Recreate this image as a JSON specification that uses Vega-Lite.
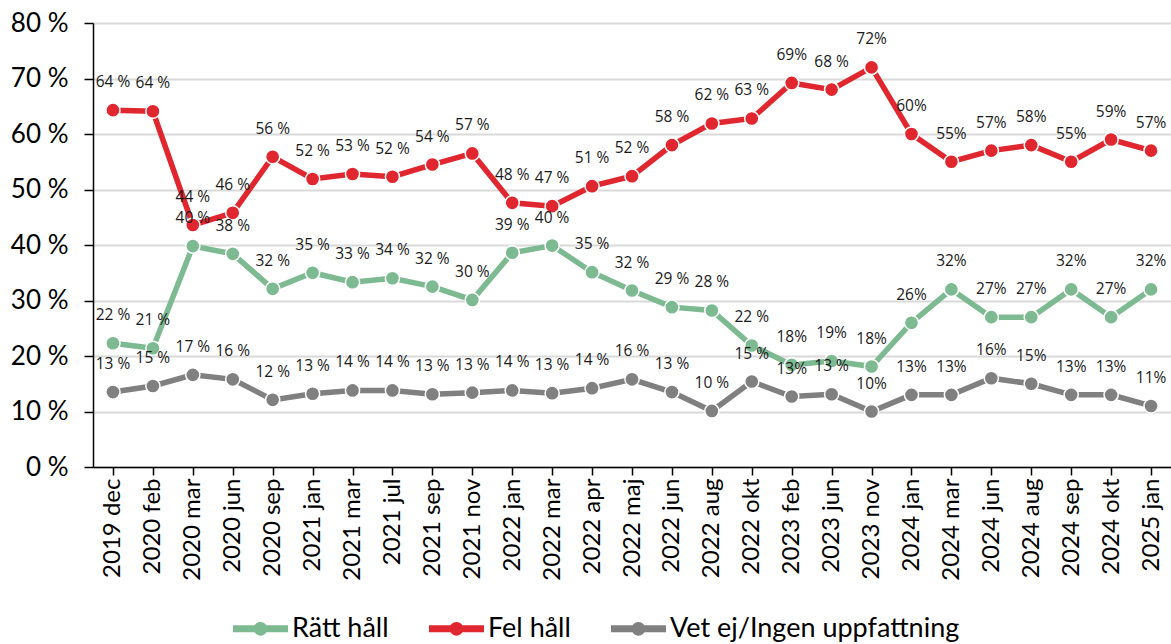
{
  "$schema": "https://vega.github.io/schema/vega-lite/v6.json",
  "width": 1078,
  "height": 444,
  "autosize": {"type": "none"},
  "padding": {"left": 93, "top": 23, "right": 0, "bottom": 177},
  "background": "white",
  "config": {
    "font": "Lato",
    "view": {"stroke": null}
  },
  "data": {
    "values": [
      {"period": "2019 dec", "serie": "Rätt håll", "value": 22.3, "label": "22 %"},
      {"period": "2020 feb", "serie": "Rätt håll", "value": 21.4, "label": "21 %"},
      {"period": "2020 mar", "serie": "Rätt håll", "value": 39.8, "label": "40 %"},
      {"period": "2020 jun", "serie": "Rätt håll", "value": 38.4, "label": "38 %"},
      {"period": "2020 sep", "serie": "Rätt håll", "value": 32.1, "label": "32 %"},
      {"period": "2021 jan", "serie": "Rätt håll", "value": 35.0, "label": "35 %"},
      {"period": "2021 mar", "serie": "Rätt håll", "value": 33.3, "label": "33 %"},
      {"period": "2021 jul", "serie": "Rätt håll", "value": 34.0, "label": "34 %"},
      {"period": "2021 sep", "serie": "Rätt håll", "value": 32.5, "label": "32 %"},
      {"period": "2021 nov", "serie": "Rätt håll", "value": 30.1, "label": "30 %"},
      {"period": "2022 jan", "serie": "Rätt håll", "value": 38.6, "label": "39 %"},
      {"period": "2022 mar", "serie": "Rätt håll", "value": 39.9, "label": "40 %"},
      {"period": "2022 apr", "serie": "Rätt håll", "value": 35.1, "label": "35 %"},
      {"period": "2022 maj", "serie": "Rätt håll", "value": 31.8, "label": "32 %"},
      {"period": "2022 jun", "serie": "Rätt håll", "value": 28.8, "label": "29 %"},
      {"period": "2022 aug", "serie": "Rätt håll", "value": 28.2, "label": "28 %"},
      {"period": "2022 okt", "serie": "Rätt håll", "value": 21.9, "label": "22 %"},
      {"period": "2023 feb", "serie": "Rätt håll", "value": 18.4, "label": "18%"},
      {"period": "2023 jun", "serie": "Rätt håll", "value": 19.1, "label": "19%"},
      {"period": "2023 nov", "serie": "Rätt håll", "value": 18.1, "label": "18%"},
      {"period": "2024 jan", "serie": "Rätt håll", "value": 26, "label": "26%"},
      {"period": "2024 mar", "serie": "Rätt håll", "value": 32, "label": "32%"},
      {"period": "2024 jun", "serie": "Rätt håll", "value": 27, "label": "27%"},
      {"period": "2024 aug", "serie": "Rätt håll", "value": 27, "label": "27%"},
      {"period": "2024 sep", "serie": "Rätt håll", "value": 32, "label": "32%"},
      {"period": "2024 okt", "serie": "Rätt håll", "value": 27, "label": "27%"},
      {"period": "2025 jan", "serie": "Rätt håll", "value": 32, "label": "32%"},
      {"period": "2019 dec", "serie": "Fel håll", "value": 64.3, "label": "64 %"},
      {"period": "2020 feb", "serie": "Fel håll", "value": 64.1, "label": "64 %"},
      {"period": "2020 mar", "serie": "Fel håll", "value": 43.6, "label": "44 %"},
      {"period": "2020 jun", "serie": "Fel håll", "value": 45.8, "label": "46 %"},
      {"period": "2020 sep", "serie": "Fel håll", "value": 55.9, "label": "56 %"},
      {"period": "2021 jan", "serie": "Fel håll", "value": 51.9, "label": "52 %"},
      {"period": "2021 mar", "serie": "Fel håll", "value": 52.8, "label": "53 %"},
      {"period": "2021 jul", "serie": "Fel håll", "value": 52.3, "label": "52 %"},
      {"period": "2021 sep", "serie": "Fel håll", "value": 54.5, "label": "54 %"},
      {"period": "2021 nov", "serie": "Fel håll", "value": 56.5, "label": "57 %"},
      {"period": "2022 jan", "serie": "Fel håll", "value": 47.6, "label": "48 %"},
      {"period": "2022 mar", "serie": "Fel håll", "value": 47.0, "label": "47 %"},
      {"period": "2022 apr", "serie": "Fel håll", "value": 50.6, "label": "51 %"},
      {"period": "2022 maj", "serie": "Fel håll", "value": 52.4, "label": "52 %"},
      {"period": "2022 jun", "serie": "Fel håll", "value": 58.0, "label": "58 %"},
      {"period": "2022 aug", "serie": "Fel håll", "value": 61.9, "label": "62 %"},
      {"period": "2022 okt", "serie": "Fel håll", "value": 62.8, "label": "63 %"},
      {"period": "2023 feb", "serie": "Fel håll", "value": 69.2, "label": "69%"},
      {"period": "2023 jun", "serie": "Fel håll", "value": 68.0, "label": "68 %"},
      {"period": "2023 nov", "serie": "Fel håll", "value": 72.0, "label": "72%"},
      {"period": "2024 jan", "serie": "Fel håll", "value": 60, "label": "60%"},
      {"period": "2024 mar", "serie": "Fel håll", "value": 55, "label": "55%"},
      {"period": "2024 jun", "serie": "Fel håll", "value": 57, "label": "57%"},
      {"period": "2024 aug", "serie": "Fel håll", "value": 58, "label": "58%"},
      {"period": "2024 sep", "serie": "Fel håll", "value": 55, "label": "55%"},
      {"period": "2024 okt", "serie": "Fel håll", "value": 59, "label": "59%"},
      {"period": "2025 jan", "serie": "Fel håll", "value": 57, "label": "57%"},
      {"period": "2019 dec", "serie": "Vet ej/Ingen uppfattning", "value": 13.5, "label": "13 %"},
      {"period": "2020 feb", "serie": "Vet ej/Ingen uppfattning", "value": 14.6, "label": "15 %"},
      {"period": "2020 mar", "serie": "Vet ej/Ingen uppfattning", "value": 16.6, "label": "17 %"},
      {"period": "2020 jun", "serie": "Vet ej/Ingen uppfattning", "value": 15.8, "label": "16 %"},
      {"period": "2020 sep", "serie": "Vet ej/Ingen uppfattning", "value": 12.1, "label": "12 %"},
      {"period": "2021 jan", "serie": "Vet ej/Ingen uppfattning", "value": 13.2, "label": "13 %"},
      {"period": "2021 mar", "serie": "Vet ej/Ingen uppfattning", "value": 13.8, "label": "14 %"},
      {"period": "2021 jul", "serie": "Vet ej/Ingen uppfattning", "value": 13.8, "label": "14 %"},
      {"period": "2021 sep", "serie": "Vet ej/Ingen uppfattning", "value": 13.1, "label": "13 %"},
      {"period": "2021 nov", "serie": "Vet ej/Ingen uppfattning", "value": 13.4, "label": "13 %"},
      {"period": "2022 jan", "serie": "Vet ej/Ingen uppfattning", "value": 13.8, "label": "14 %"},
      {"period": "2022 mar", "serie": "Vet ej/Ingen uppfattning", "value": 13.3, "label": "13 %"},
      {"period": "2022 apr", "serie": "Vet ej/Ingen uppfattning", "value": 14.2, "label": "14 %"},
      {"period": "2022 maj", "serie": "Vet ej/Ingen uppfattning", "value": 15.8, "label": "16 %"},
      {"period": "2022 jun", "serie": "Vet ej/Ingen uppfattning", "value": 13.5, "label": "13 %"},
      {"period": "2022 aug", "serie": "Vet ej/Ingen uppfattning", "value": 10.1, "label": "10 %"},
      {"period": "2022 okt", "serie": "Vet ej/Ingen uppfattning", "value": 15.4, "label": "15 %"},
      {"period": "2023 feb", "serie": "Vet ej/Ingen uppfattning", "value": 12.7, "label": "13%"},
      {"period": "2023 jun", "serie": "Vet ej/Ingen uppfattning", "value": 13.1, "label": "13 %"},
      {"period": "2023 nov", "serie": "Vet ej/Ingen uppfattning", "value": 10, "label": "10%"},
      {"period": "2024 jan", "serie": "Vet ej/Ingen uppfattning", "value": 13, "label": "13%"},
      {"period": "2024 mar", "serie": "Vet ej/Ingen uppfattning", "value": 13, "label": "13%"},
      {"period": "2024 jun", "serie": "Vet ej/Ingen uppfattning", "value": 16, "label": "16%"},
      {"period": "2024 aug", "serie": "Vet ej/Ingen uppfattning", "value": 15, "label": "15%"},
      {"period": "2024 sep", "serie": "Vet ej/Ingen uppfattning", "value": 13, "label": "13%"},
      {"period": "2024 okt", "serie": "Vet ej/Ingen uppfattning", "value": 13, "label": "13%"},
      {"period": "2025 jan", "serie": "Vet ej/Ingen uppfattning", "value": 11, "label": "11%"}
    ]
  },
  "encoding": {
    "x": {
      "field": "period",
      "type": "ordinal",
      "sort": null,
      "scale": {"type": "point", "padding": 0.5},
      "axis": {
        "title": null,
        "labelAngle": -90,
        "labelAlign": "right",
        "labelBaseline": "middle",
        "labelFontSize": 24,
        "labelColor": "#000000",
        "labelPadding": 3,
        "domainColor": "#000000",
        "domainWidth": 1.5,
        "tickColor": "#000000",
        "tickWidth": 1.5,
        "tickSize": 8,
        "grid": false
      }
    },
    "y": {
      "field": "value",
      "type": "quantitative",
      "scale": {"domain": [0, 80], "nice": false},
      "axis": {
        "title": null,
        "values": [0, 10, 20, 30, 40, 50, 60, 70, 80],
        "labelExpr": "datum.value + ' %'",
        "labelFontSize": 26,
        "labelColor": "#000000",
        "labelPadding": 16,
        "domainColor": "#000000",
        "domainWidth": 1.5,
        "tickColor": "#000000",
        "tickWidth": 1.5,
        "tickSize": 9,
        "grid": true,
        "gridColor": "#d9d9d9",
        "gridWidth": 2
      }
    },
    "color": {
      "field": "serie",
      "type": "nominal",
      "scale": {
        "domain": ["Rätt håll", "Fel håll", "Vet ej/Ingen uppfattning"],
        "range": ["#7dba91", "#e0262f", "#808080"]
      },
      "legend": {
        "title": null,
        "orient": "none",
        "direction": "horizontal",
        "legendX": 140,
        "legendY": 578,
        "symbolType": "M-1,-0.13 L1,-0.13 L1,0.13 L-1,0.13 Z M-0.25,0 A0.25,0.25 0 1,1 0.25,0 A0.25,0.25 0 1,1 -0.25,0 Z",
        "symbolSize": 3025,
        "symbolStrokeWidth": 0,
        "symbolOpacity": 1,
        "symbolDash": [],
        "labelFontSize": 27,
        "labelColor": "#000000",
        "labelOffset": 4,
        "columnPadding": 40,
        "labelLimit": 400
      }
    }
  },
  "layer": [
    {
      "mark": {"type": "line", "strokeWidth": 5.5}
    },
    {
      "mark": {"type": "point", "filled": true, "opacity": 1, "size": 200, "stroke": "white", "strokeWidth": 1.5}
    },
    {
      "mark": {"type": "text", "font": "Open Sans", "fontSize": 15.5, "color": "#1a1a1a", "dy": -28, "baseline": "middle"},
      "encoding": {
        "text": {"field": "label"},
        "color": {"value": "#1a1a1a"}
      }
    }
  ]
}
